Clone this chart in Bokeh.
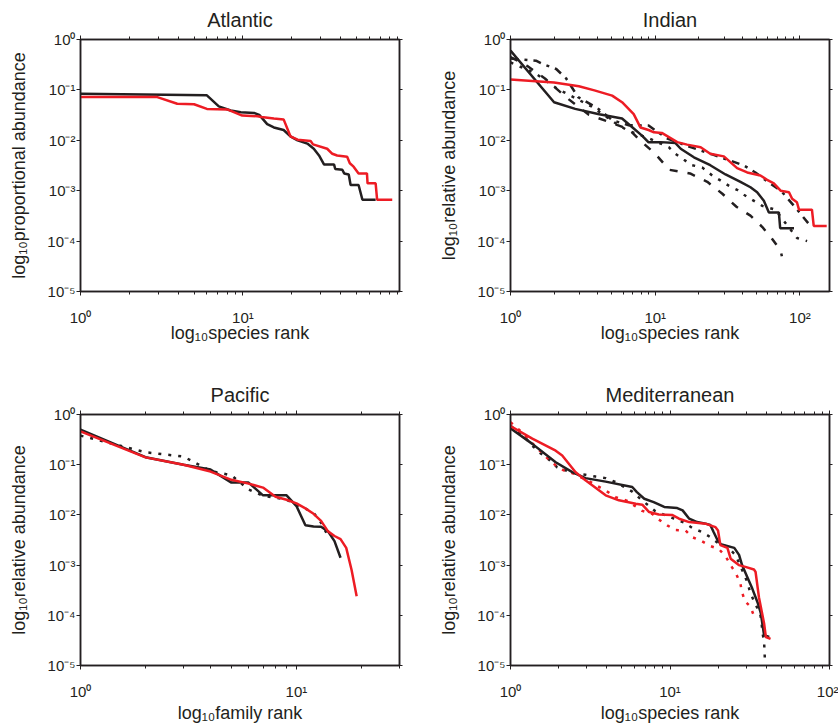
from bokeh.plotting import figure
from bokeh.layouts import column, row
from bokeh.models import LogAxis, FixedTicker, CustomJSTickFormatter, Range1d
from bokeh.embed import file_html
from bokeh.resources import INLINE

BLACK = "#231f20"
RED = "#ed1c24"
FONT = "Liberation Sans"

# ---------------- tick values ----------------
y_major = [1e-5, 1e-4, 1e-3, 1e-2, 1e-1, 1.0]
x_major = [1, 10, 100]
x_minor = [2, 3, 4, 5, 6, 7, 8, 9, 20, 30, 40, 50, 60, 70, 80, 90, 200]

# ---------------- Atlantic ----------------
atl_black_rank = [1, 6, 7.1, 8.4, 9.7, 11.7, 12.6, 14.1, 15.5, 17.8, 19.6, 21.7, 24.9, 27.3, 29.4,
                  31.6, 36.4, 37, 40.9, 42, 44.8, 46, 51.5, 54.4, 65.6]
atl_black_abund = [0.084, 0.078, 0.047, 0.039, 0.036, 0.035, 0.032, 0.021, 0.018, 0.016, 0.012, 0.010,
                   0.0086, 0.0068, 0.005, 0.0033, 0.0033, 0.0027, 0.0026, 0.0022, 0.0021, 0.0013,
                   0.0013, 0.00066, 0.00066]
atl_red_rank = [1, 2.97, 3.94, 5.0, 6.0, 8.0, 9.9, 12.3, 13, 15.5, 17.8, 19.6, 21.7, 26.1, 27, 33,
                35.5, 38, 43.8, 45.5, 48, 51.5, 58, 58.5, 65.6, 67, 83]
atl_red_abund = [0.072, 0.072, 0.053, 0.052, 0.042, 0.041, 0.031, 0.030, 0.029, 0.027, 0.026, 0.012,
                 0.0103, 0.0097, 0.0083, 0.0068, 0.0054, 0.0050, 0.0047, 0.0035, 0.003, 0.0022,
                 0.0022, 0.0014, 0.0014, 0.00066, 0.00066]

# ---------------- Indian ----------------
ind_black_rank = [1, 2, 2.8, 4.1, 5.9, 6.75, 8.1, 9, 10.9, 13.8, 15, 18.5, 24, 30.6, 38.8, 45.5,
                  50.6, 56.3, 61, 71.5, 73, 91]
ind_black_abund = [0.60, 0.057, 0.042, 0.033, 0.027, 0.0195, 0.0124, 0.0091, 0.0092, 0.0088, 0.0068,
                   0.0046, 0.0032, 0.0021, 0.0015, 0.00117, 0.00093, 0.00063, 0.00037, 0.00037,
                   0.00018, 0.00018]
ind_red_rank = [1, 2, 2.97, 3.8, 5.04, 5.9, 7.1, 7.9, 9.0, 9.8, 11.1, 14.2, 16.6, 20.6, 24, 29.8,
                36.8, 43.2, 53.3, 59.3, 66, 73.5, 84, 88.3, 95.3, 98.5, 121, 124.5, 153]
ind_red_abund = [0.16, 0.14, 0.118, 0.098, 0.077, 0.057, 0.033, 0.018, 0.016, 0.0144, 0.014, 0.0092,
                 0.0082, 0.0073, 0.0054, 0.0048, 0.0028, 0.0023, 0.002, 0.00164, 0.0014, 0.001,
                 0.00093, 0.00069, 0.00059, 0.00042, 0.00042, 0.0002, 0.0002]
ind_dash_rank = [1, 1.3, 1.73, 2.46, 3.48, 4.83, 6.6, 8.0, 10.0, 12.5, 17.4, 22.9, 29.1, 36.4, 45.5,
                 55, 64.3, 73.5, 75]
ind_dash_abund = [0.45, 0.3, 0.168, 0.069, 0.032, 0.023, 0.0164, 0.0095, 0.0054, 0.0026, 0.0022,
                  0.0015, 0.00087, 0.00048, 0.00032, 0.00019, 0.00011, 0.000065, 0.00005]
ind_dot_rank = [1, 1.5, 2.1, 3.67, 5.3, 6.4, 9, 12.4, 13.8, 15.8, 18, 21.1, 24.8, 28.2, 32.2, 36.8,
                41, 46.8, 55, 67.6, 77.5, 95.5, 112]
ind_dot_abund = [0.35, 0.21, 0.106, 0.046, 0.022, 0.0158, 0.011, 0.0073, 0.0054, 0.0041, 0.0032,
                 0.0029, 0.002, 0.0016, 0.00126, 0.00104, 0.00083, 0.00066, 0.0005, 0.00042,
                 0.00025, 0.000115, 0.0001]
ind_dashdot_rank = [1, 1.5, 1.66, 2.07, 2.42, 2.93, 3.97, 5.05, 6.5, 9, 12, 17.1, 25, 35.3, 41.5,
                    49.2, 60, 74.3, 93.2, 115, 125]
ind_dashdot_abund = [0.42, 0.38, 0.33, 0.26, 0.17, 0.072, 0.044, 0.025, 0.02, 0.0196, 0.011, 0.0075,
                     0.0052, 0.0037, 0.0031, 0.0023, 0.0015, 0.00098, 0.00046, 0.00022, 0.00022]

# ---------------- Pacific ----------------
pac_black_rank = [1, 2, 3, 4, 5, 6, 7, 8, 9, 10, 11, 12, 13, 14, 15, 16]
pac_black_abund = [0.50, 0.141, 0.10, 0.080, 0.044, 0.044, 0.0245, 0.0245, 0.0245, 0.015, 0.0062,
                   0.0059, 0.0058, 0.0047, 0.003, 0.0014]
pac_red_rank = [1, 2, 3, 4, 5, 6, 7, 8, 9, 10, 11, 12, 13, 14, 15, 16, 17, 18, 19]
pac_red_abund = [0.46, 0.14, 0.10, 0.073, 0.05, 0.042, 0.035, 0.023, 0.02, 0.017, 0.0135, 0.0105,
                 0.0076, 0.0047, 0.0038, 0.0033, 0.0022, 0.0008, 0.00024]
pac_dot_rank = [1, 2, 3, 4, 5, 6, 7, 8, 9, 10, 11, 12, 13, 14]
pac_dot_abund = [0.38, 0.177, 0.145, 0.075, 0.0615, 0.032, 0.024, 0.022, 0.02, 0.016, 0.0133, 0.011,
                 0.007, 0.0038]

# ---------------- Mediterranean ----------------
med_black_rank = [1, 1.37, 1.92, 2.44, 2.95, 3.95, 5.8, 6.2, 6.9, 7.9, 9.2, 11.1, 12.0, 13.2, 14.8,
                  16.7, 17.9, 18.8, 19.7, 20.8, 25.3, 27.1, 28.3, 30.5, 32.8, 35.4, 37.1, 38.9, 41.9]
med_black_abund = [0.53, 0.26, 0.112, 0.071, 0.054, 0.046, 0.036, 0.0285, 0.021, 0.018, 0.0144,
                   0.0137, 0.0123, 0.0084, 0.0072, 0.0067, 0.0063, 0.0045, 0.0033, 0.0026, 0.0022,
                   0.0016, 0.001, 0.00058, 0.00034, 0.00018, 0.00011, 0.00004, 0.000037]
med_red_rank = [1, 1.37, 1.92, 2.11, 2.56, 2.95, 3.95, 4.78, 6.1, 6.7, 7.4, 8.5, 10.3, 11.4, 13.2,
                16.7, 17.9, 19.3, 20.0, 20.7, 22.9, 24.0, 27.0, 29.7, 33.6, 34.4, 36.1, 38.9, 39.9,
                42.7]
med_red_abund = [0.59, 0.33, 0.19, 0.153, 0.071, 0.049, 0.0245, 0.0195, 0.0167, 0.016, 0.0114,
                 0.0102, 0.01, 0.0084, 0.0072, 0.0067, 0.0062, 0.0057, 0.0049, 0.0025, 0.0022,
                 0.00134, 0.001, 0.00092, 0.00082, 0.00073, 0.00023, 0.000069, 0.000037, 0.000034]
med_black_dot_rank = [1, 1.2, 1.40, 1.54, 1.74, 1.96, 2.21, 2.62, 2.95, 3.42, 3.95, 4.56, 5.8, 6.5,
                      8.1, 10.6, 12.2, 13.8, 16.0, 17.9, 20.2, 22.9, 25.7, 29, 30.5, 31.8, 34.4,
                      36.6, 37.5, 37.9, 38.9, 39.4]
med_black_dot_abund = [0.6, 0.38, 0.224, 0.17, 0.127, 0.089, 0.077, 0.066, 0.063, 0.058, 0.054,
                       0.045, 0.029, 0.021, 0.0118, 0.0084, 0.0071, 0.0055, 0.0045, 0.0036, 0.0027,
                       0.0023, 0.0016, 0.00068, 0.00046, 0.00029, 0.00016, 0.000117, 0.000074,
                       0.000047, 0.00003, 0.0000118]
med_red_dot_rank = [1, 1.13, 1.4, 1.70, 1.92, 2.16, 2.5, 3.18, 4.14, 4.56, 5.4, 6.7, 7.77, 8.5, 9.6,
                    10.8, 12.5, 13.8, 15.5, 17.9, 20.2, 22.3, 24.5, 25.9, 27.6, 28.2, 29.5, 31.9,
                    33.5]
med_red_dot_abund = [0.7, 0.5, 0.25, 0.135, 0.097, 0.077, 0.066, 0.045, 0.0277, 0.0226, 0.019,
                     0.012, 0.0104, 0.0081, 0.0062, 0.005, 0.0049, 0.0036, 0.0031, 0.0024, 0.0021,
                     0.0015, 0.0009, 0.00068, 0.00044, 0.0003, 0.00019, 0.00015, 0.0001]

SUP_JS = """
const sup = {"-": "\u207b", "0": "\u2070", "1": "\u00b9", "2": "\u00b2", "3": "\u00b3",
             "4": "\u2074", "5": "\u2075"};
const e = Math.round(Math.log10(tick));
return "10" + String(e).split("").map(c => sup[c]).join("");
"""


def style_axis(ax, minor=True, labels=True):
    ax.axis_line_color = BLACK
    ax.axis_line_width = 1.5
    ax.major_tick_line_color = BLACK
    ax.major_tick_line_width = 1
    ax.major_tick_out = 4
    ax.major_tick_in = 0
    if minor:
        ax.minor_tick_line_color = BLACK
        ax.minor_tick_line_width = 1
        ax.minor_tick_out = 3
        ax.minor_tick_in = 0
    else:
        ax.minor_tick_line_color = None
    ax.major_label_text_font = FONT
    if labels:
        ax.major_label_text_font_size = "15px"
        ax.major_label_text_color = BLACK
    else:
        ax.major_label_text_font_size = "0px"
        ax.major_label_text_color = None
        ax.major_label_standoff = 0
    ax.axis_label_text_font = FONT
    ax.axis_label_text_font_size = "18px"
    ax.axis_label_text_font_style = "normal"
    ax.axis_label_text_color = BLACK


def panel(title, xmax, xlabel, ylabel, w, h, bl, br, bt, bb, xstand, xlab_stand, tstand):
    p = figure(width=w, height=h, x_axis_type="log", y_axis_type="log",
               x_range=Range1d(1, xmax), y_range=Range1d(1e-5, 1),
               output_backend="svg", toolbar_location=None,
               min_border_left=bl, min_border_right=br,
               min_border_top=bt, min_border_bottom=bb)
    p.title.text = title
    p.title.align = "center"
    p.title.text_font = FONT
    p.title.text_font_size = "20px"
    p.title.text_font_style = "normal"
    p.title.text_color = BLACK
    p.title.standoff = tstand
    p.grid.visible = False
    p.outline_line_color = BLACK
    p.outline_line_width = 1.5
    p.background_fill_color = "white"
    p.border_fill_color = "white"

    xt = FixedTicker(ticks=x_major, minor_ticks=x_minor)
    yt = FixedTicker(ticks=y_major, minor_ticks=[])
    fmt = CustomJSTickFormatter(code=SUP_JS)

    xa = p.xaxis[0]
    xa.ticker = xt
    xa.formatter = fmt
    xa.axis_label = xlabel
    style_axis(xa)
    xa.major_label_standoff = xstand
    xa.axis_label_standoff = xlab_stand

    ya = p.yaxis[0]
    ya.ticker = yt
    ya.formatter = fmt
    ya.axis_label = ylabel
    style_axis(ya, minor=False)
    ya.major_label_standoff = 1
    ya.axis_label_standoff = 15

    top = LogAxis(ticker=xt, formatter=fmt)
    style_axis(top, labels=False)
    p.add_layout(top, "above")
    right = LogAxis(ticker=yt, formatter=fmt)
    style_axis(right, minor=False, labels=False)
    right.major_tick_out = 3
    p.add_layout(right, "right")
    return p


# Atlantic
p1 = panel("Atlantic", 92, "log\u2081\u2080species rank", "log\u2081\u2080proportional abundance",
           419, 360, 80, 20, 39, 69, 13, -6, 9)
p1.line(atl_black_rank, atl_black_abund, line_color=BLACK, line_width=2.5)
p1.line(atl_red_rank, atl_red_abund, line_color=RED, line_width=2.5)

# Indian
p2 = panel("Indian", 160, "log\u2081\u2080species rank", "log\u2081\u2080relative abundance",
           419, 360, 91, 9, 39, 69, 13, -6, 9)
p2.line(ind_dash_rank, ind_dash_abund, line_color=BLACK, line_width=2.5, line_dash="8 10")
p2.line(ind_dot_rank, ind_dot_abund, line_color=BLACK, line_width=2.5, line_dash="3 7")
p2.line(ind_dashdot_rank, ind_dashdot_abund, line_color=BLACK, line_width=2.5, line_dash="8 6 3 6")
p2.line(ind_black_rank, ind_black_abund, line_color=BLACK, line_width=2.5)
p2.line(ind_red_rank, ind_red_abund, line_color=RED, line_width=2.5)

# Pacific
p3 = panel("Pacific", 30, "log\u2081\u2080family rank", "log\u2081\u2080relative abundance",
           419, 367, 80, 20, 54, 62, 13, 0, 9)
p3.line(pac_dot_rank, pac_dot_abund, line_color=BLACK, line_width=2.5, line_dash="3 7")
p3.line(pac_black_rank, pac_black_abund, line_color=BLACK, line_width=2.5)
p3.line(pac_red_rank, pac_red_abund, line_color=RED, line_width=2.5)

# Mediterranean
p4 = panel("Mediterranean", 100, "log\u2081\u2080species rank", "log\u2081\u2080relative abundance",
           419, 367, 91, 9, 54, 62, 13, 0, 9)
p4.line(med_black_dot_rank, med_black_dot_abund, line_color=BLACK, line_width=2.5, line_dash="3 7")
p4.line(med_red_dot_rank, med_red_dot_abund, line_color=RED, line_width=2.5, line_dash="3 7")
p4.line(med_black_rank, med_black_abund, line_color=BLACK, line_width=2.5)
p4.line(med_red_rank, med_red_abund, line_color=RED, line_width=2.5)

layout = column(row(p1, p2), row(p3, p4))
open("out.html", "w").write(file_html(layout, INLINE))
